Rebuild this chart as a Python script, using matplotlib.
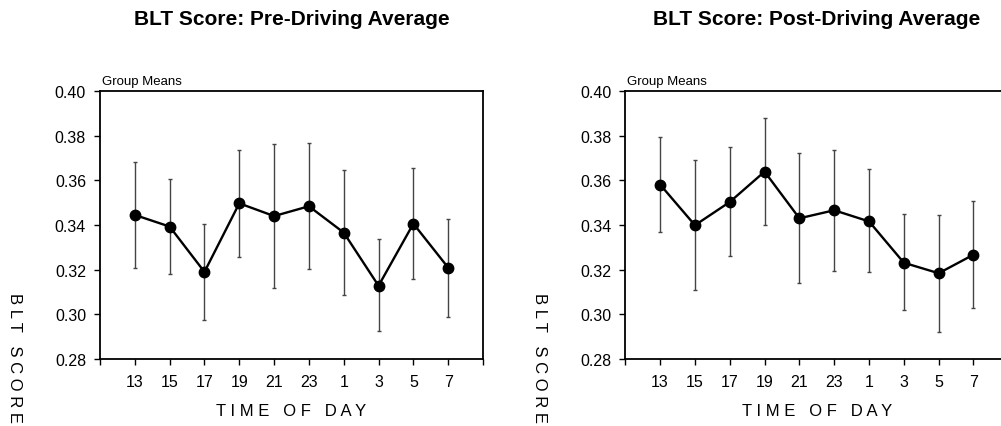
import matplotlib
matplotlib.use('Agg')
import matplotlib.pyplot as plt

plt.rcParams['font.family'] = ['Liberation Sans', 'DejaVu Sans']

# time of day (hours), plotted in session order
hours = ['13', '15', '17', '19', '21', '23', '1', '3', '5', '7']

# pre-driving group means and error bar ends
pre_mean = [0.3445, 0.3393, 0.3190, 0.3497, 0.3440, 0.3484, 0.3366, 0.3128, 0.3406, 0.3209]
pre_upper = [0.3681, 0.3604, 0.3406, 0.3737, 0.3761, 0.3766, 0.3646, 0.3337, 0.3654, 0.3427]
pre_lower = [0.3209, 0.3182, 0.2976, 0.3257, 0.3119, 0.3203, 0.3085, 0.2924, 0.3158, 0.2990]

# post-driving group means and error bar ends
post_mean = [0.3581, 0.3399, 0.3503, 0.3639, 0.3430, 0.3466, 0.3416, 0.3231, 0.3184, 0.3267]
post_upper = [0.3793, 0.3690, 0.3748, 0.3878, 0.3724, 0.3737, 0.3649, 0.3448, 0.3443, 0.3507]
post_lower = [0.3369, 0.3107, 0.3260, 0.3401, 0.3139, 0.3194, 0.3190, 0.3019, 0.2922, 0.3030]

yticks = [0.28, 0.30, 0.32, 0.34, 0.36, 0.38, 0.40]

W, H = 1001, 427
fig = plt.figure(figsize=(W / 100, H / 100), dpi=100)


def draw_panel(left_px, mean, lower, upper, title):
    ax = fig.add_axes([left_px / W, (H - 360) / H, 383 / W, 268 / H])
    x = list(range(1, len(hours) + 1))
    err = [[m - lo for m, lo in zip(mean, lower)],
           [up - m for m, up in zip(mean, upper)]]
    ax.errorbar(x, mean, yerr=err, fmt='none', ecolor='#444444',
                elinewidth=1.0, capsize=1.6, capthick=1.0, zorder=2)
    ax.plot(x, mean, '-o', color='black', lw=1.7, ms=7.5, zorder=3)

    ax.set_xlim(0, len(hours) + 1)
    ax.set_ylim(0.28, 0.40)
    ax.set_xticks(range(0, len(hours) + 2))
    ax.set_xticklabels([''] + hours + [''])
    ax.set_yticks(yticks)
    ax.set_yticklabels(['%.2f' % v for v in yticks])
    ax.tick_params(axis='x', direction='out', length=4, width=1, pad=6.5, labelsize=11.5)
    ax.tick_params(axis='y', direction='out', length=4, width=1, pad=6, labelsize=11.5)
    for s in ax.spines.values():
        s.set_linewidth(1.3)

    cx = (left_px + 383 / 2) / W
    fig.text(cx, (H - 25) / H, title, ha='center', va='baseline',
             fontsize=15, fontweight='bold')
    fig.text((left_px + 2) / W, (H - 85) / H, 'Group Means', ha='left',
             va='baseline', fontsize=9.5)
    fig.text(cx, (H - 416.5) / H, 'T I M E   O F   D A Y', ha='center',
             va='baseline', fontsize=12)
    fig.text((left_px - 86) / W, (H - 293) / H, 'B L T   S C O R E',
             rotation=270, ha='center', va='top', fontsize=12)
    return ax


draw_panel(100, pre_mean, pre_lower, pre_upper, 'BLT Score: Pre-Driving Average')
draw_panel(625.3, post_mean, post_lower, post_upper, 'BLT Score: Post-Driving Average')

fig.savefig('out.png', dpi=100)
